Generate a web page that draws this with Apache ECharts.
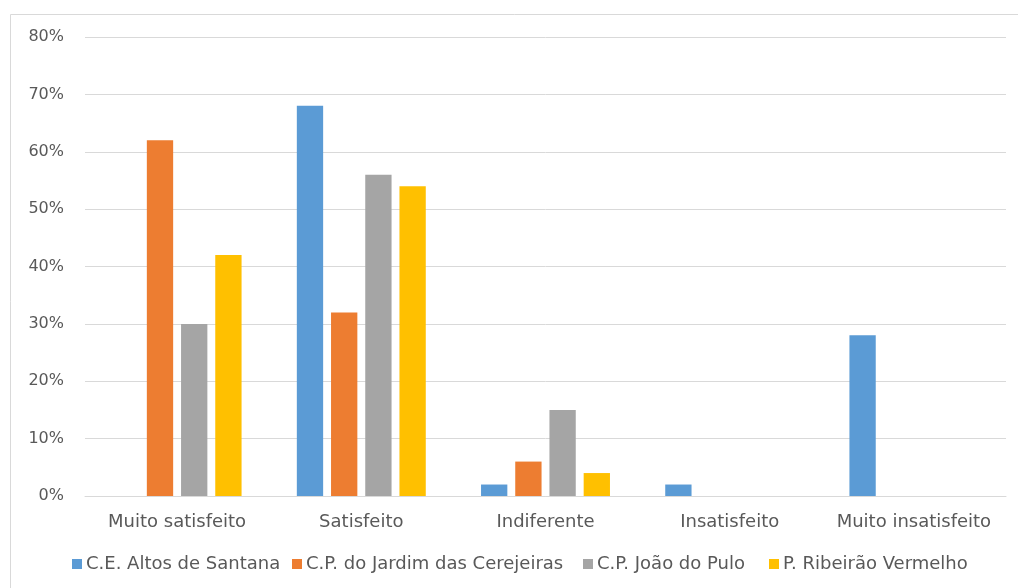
<!DOCTYPE html>
<html>
<head>
<meta charset="utf-8">
<script src="https://cdn.jsdelivr.net/npm/echarts@6/dist/echarts.min.js"></script>
<style>html,body{margin:0;padding:0;background:#fff}#c{width:1018px;height:588px}</style>
</head>
<body>
<div id="c"></div>
<script>
var categories = ['Muito satisfeito', 'Satisfeito', 'Indiferente', 'Insatisfeito', 'Muito insatisfeito'];
var seriesNames = ['C.E. Altos de Santana', 'C.P. do Jardim das Cerejeiras', 'C.P. João do Pulo', 'P. Ribeirão Vermelho'];
var altosSantana = [0, 68, 2, 2, 28];
var jardimCerejeiras = [62, 32, 6, 0, 0];
var joaoPulo = [30, 56, 15, 0, 0];
var ribeiraoVermelho = [42, 54, 4, 0, 0];
var yTicks = [0, 10, 20, 30, 40, 50, 60, 70, 80];
var colors = ['#5B9BD5', '#ED7D31', '#A5A5A5', '#FFC000'];
var values = [altosSantana, jardimCerejeiras, joaoPulo, ribeiraoVermelho];
var legendLefts = [72, 292, 583, 769];

var chart = echarts.init(document.getElementById('c'));
var font = '"DejaVu Sans", sans-serif';
chart.setOption({
  animation: false,
  color: colors,
  graphic: [{
    type: 'rect', shape: {x: 10.5, y: 14.5, width: 1020, height: 600},
    style: {fill: 'none', stroke: '#d9d9d9', lineWidth: 1}, silent: true
  }],
  grid: {left: 85, right: 12, top: 37, bottom: 92},
  legend: seriesNames.map(function (n, i) {
    return {
      top: 555, left: legendLefts[i], padding: 0,
      itemWidth: 10, itemHeight: 10,
      icon: 'rect',
      textStyle: {fontFamily: font, fontSize: 18, color: '#595959', padding: [0, 0, 0, -1]},
      data: [n]
    };
  }),
  xAxis: {
    type: 'category', data: categories,
    axisLine: {lineStyle: {color: '#d9d9d9'}},
    axisTick: {show: false},
    axisLabel: {fontFamily: font, fontSize: 18, color: '#595959', margin: 17, interval: 0}
  },
  yAxis: {
    type: 'value', min: yTicks[0], max: yTicks[yTicks.length - 1], interval: 10,
    axisLine: {show: false}, axisTick: {show: false},
    splitLine: {lineStyle: {color: '#d9d9d9'}},
    axisLabel: {fontFamily: font, fontSize: 16, color: '#595959', margin: 21, formatter: '{value}%'}
  },
  series: values.map(function (v, i) {
    return {
      name: seriesNames[i], type: 'bar', data: v,
      barGap: '30%', barCategoryGap: '30%',
      itemStyle: {color: colors[i]}
    };
  })
});
</script>
</body>
</html>
